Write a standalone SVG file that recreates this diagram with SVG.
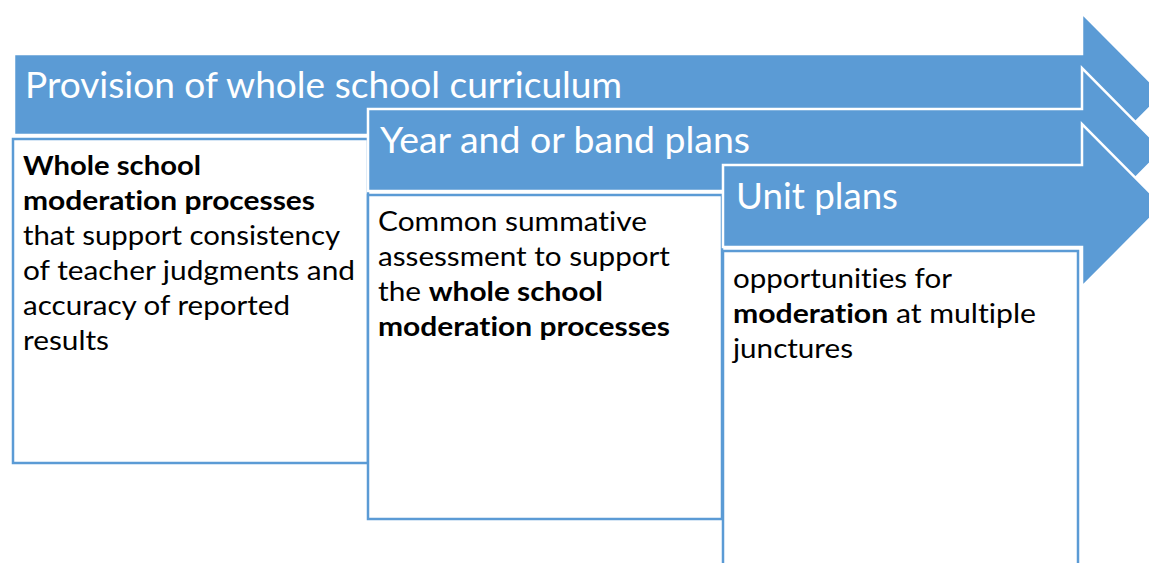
<svg xmlns="http://www.w3.org/2000/svg" width="1149" height="563" viewBox="0 0 1149 563">
  <style>
    .arrow { fill: #5B9BD5; stroke: #FFFFFF; stroke-width: 2.5; stroke-linejoin: miter; }
    .box { fill: #FFFFFF; stroke: #5B9BD5; stroke-width: 2.5; }
    text { font-variant-ligatures: none; font-feature-settings: "liga" 0, "clig" 0; }
    .head { font-family: Lato, "Open Sans", "Liberation Sans", sans-serif; font-size: 37px; fill: #FFFFFF; }
    .body { font-family: Lato, "Open Sans", "Liberation Sans", sans-serif; font-size: 27px; fill: #000000; }
    .b { font-weight: bold; }
  </style>
  <rect width="1149" height="563" fill="#FFFFFF"/>

  <!-- Level 1: whole school -->
  <g id="curriculum">
    <path class="arrow" d="M14,54 H1082 V13 L1163,94.5 L1082,176 V135 H14 Z"/>
    <text class="head" x="25" y="98" textLength="597" lengthAdjust="spacingAndGlyphs">Provision of whole school curriculum</text>
  </g>
  <g id="whole-school-moderation">
    <rect class="box" x="13" y="139" width="355" height="324"/>
    <text class="body b" x="23" y="175" textLength="178" lengthAdjust="spacingAndGlyphs">Whole school</text>
    <text class="body b" x="23" y="210" textLength="292" lengthAdjust="spacingAndGlyphs">moderation processes</text>
    <text class="body" x="23" y="245" textLength="317" lengthAdjust="spacingAndGlyphs">that support consistency</text>
    <text class="body" x="23" y="280" textLength="332" lengthAdjust="spacingAndGlyphs">of teacher judgments and</text>
    <text class="body" x="23" y="315" textLength="267" lengthAdjust="spacingAndGlyphs">accuracy of reported</text>
    <text class="body" x="23" y="350" textLength="86" lengthAdjust="spacingAndGlyphs">results</text>
  </g>

  <!-- Level 2: year / band -->
  <g id="year-band-plans">
    <path class="arrow" d="M368,109 H1082 V68 L1163,150 L1082,232 V191 H368 Z"/>
    <text class="head" x="380" y="153" textLength="370" lengthAdjust="spacingAndGlyphs">Year and or band plans</text>
  </g>
  <g id="common-summative-assessment">
    <rect class="box" x="368" y="195" width="354" height="324"/>
    <text class="body" x="378" y="231" textLength="269" lengthAdjust="spacingAndGlyphs">Common summative</text>
    <text class="body" x="378" y="266" textLength="292" lengthAdjust="spacingAndGlyphs">assessment to support</text>
    <text class="body" x="378" y="301" textLength="225" lengthAdjust="spacingAndGlyphs">the <tspan class="b">whole school</tspan></text>
    <text class="body b" x="378" y="336" textLength="292" lengthAdjust="spacingAndGlyphs">moderation processes</text>
  </g>

  <!-- Level 3: unit -->
  <g id="unit-plans">
    <path class="arrow" d="M723,165 H1082 V124 L1163,205.5 L1082,287 V247 H723 Z"/>
    <text class="head" x="736" y="209" textLength="162" lengthAdjust="spacingAndGlyphs">Unit plans</text>
  </g>
  <g id="moderation-opportunities">
    <rect class="box" x="723" y="251" width="355" height="324"/>
    <text class="body" x="733" y="288" textLength="219" lengthAdjust="spacingAndGlyphs">opportunities for</text>
    <text class="body" x="733" y="323" textLength="303" lengthAdjust="spacingAndGlyphs"><tspan class="b">moderation</tspan> at multiple</text>
    <text class="body" x="733" y="358" textLength="120" lengthAdjust="spacingAndGlyphs">junctures</text>
  </g>

  <!-- no connectors: the stages are linked by overlapping arrows -->
  <g id="connectors"/>
</svg>
